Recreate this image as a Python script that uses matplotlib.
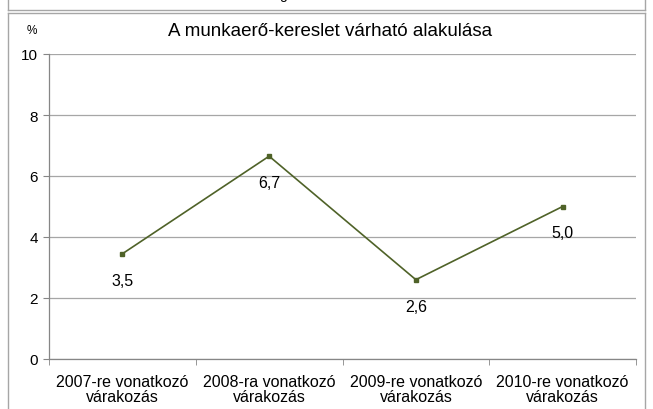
import matplotlib
matplotlib.use("Agg")
import matplotlib.pyplot as plt
from matplotlib.lines import Line2D

categories = ["2007-re vonatkozó\nvárakozás", "2008-ra vonatkozó\nvárakozás",
              "2009-re vonatkozó\nvárakozás", "2010-re vonatkozó\nvárakozás"]
values = [3.45, 6.65, 2.6, 5.0]
value_labels = ["3,5", "6,7", "2,6", "5,0"]
y_ticks = [0, 2, 4, 6, 8, 10]

plt.rcParams['font.family'] = ['Liberation Sans', 'DejaVu Sans']

W, H = 653, 410
fig = plt.figure(figsize=(W / 100, H / 100), dpi=100)
ax = fig.add_axes([49 / W, 1 - 360 / H, (636 - 49) / W, (360 - 55) / H])

x = list(range(len(values)))
ax.plot(x, values, color="#4F6228", linewidth=1.2, marker="s", markersize=3.5,
        markerfacecolor="#4F6228", markeredgecolor="#4F6228", zorder=3)
for xi, v, lab in zip(x, values, value_labels):
    ax.annotate(lab, (xi, v), xytext=(0, -19), textcoords="offset points",
                ha="center", va="center", fontsize=11.5, color="black")

ax.set_xlim(-0.5, len(values) - 0.5)
ax.set_ylim(0, 10)
ax.set_yticks(y_ticks)
ax.set_yticklabels([str(t) for t in y_ticks], fontsize=11)
ax.set_xticks(x)
ax.set_xticklabels(categories, fontsize=11.5, linespacing=0.95)
ax.set_xticks([i - 0.5 for i in range(len(values) + 1)], minor=True)
ax.tick_params(axis="x", which="major", length=0, pad=11)
ax.tick_params(axis="x", which="minor", length=4, color="#868686", direction="out")
ax.tick_params(axis="y", length=4, color="#868686", pad=4)
ax.grid(axis="y", color="#A6A6A6", linewidth=0.9)
ax.set_axisbelow(True)
for s in ["top", "right"]:
    ax.spines[s].set_visible(False)
for s in ["left", "bottom"]:
    ax.spines[s].set_color("#868686")
    ax.spines[s].set_linewidth(0.9)

fig.text(330 / W, 1 - 32 / H, "A munkaerő-kereslet várható alakulása",
         ha="center", va="center", fontsize=13.5)
fig.text(32 / W, 1 - 31 / H, "%", ha="center", va="center", fontsize=8.5)

# chart frames
fc = "#A6A6A6"
def fl(x0, y0, x1, y1):
    fig.add_artist(Line2D([x0 / W, x1 / W], [1 - y0 / H, 1 - y1 / H],
                          color=fc, linewidth=1.0, transform=fig.transFigure))
fl(7.5, 0, 7.5, 11)
fl(644.5, 0, 644.5, 11)
fl(7.5, 11, 644.5, 11)
fl(7.5, 14, 644.5, 14)
fl(7.5, 14, 7.5, 410)
fl(644.5, 14, 644.5, 410)
# descender of a word from the block above, cut off by the top edge
fig.text(283 / W, 1 + 1 / H, "g", ha="center", va="baseline", fontsize=10)

fig.savefig("out.png", dpi=100)
